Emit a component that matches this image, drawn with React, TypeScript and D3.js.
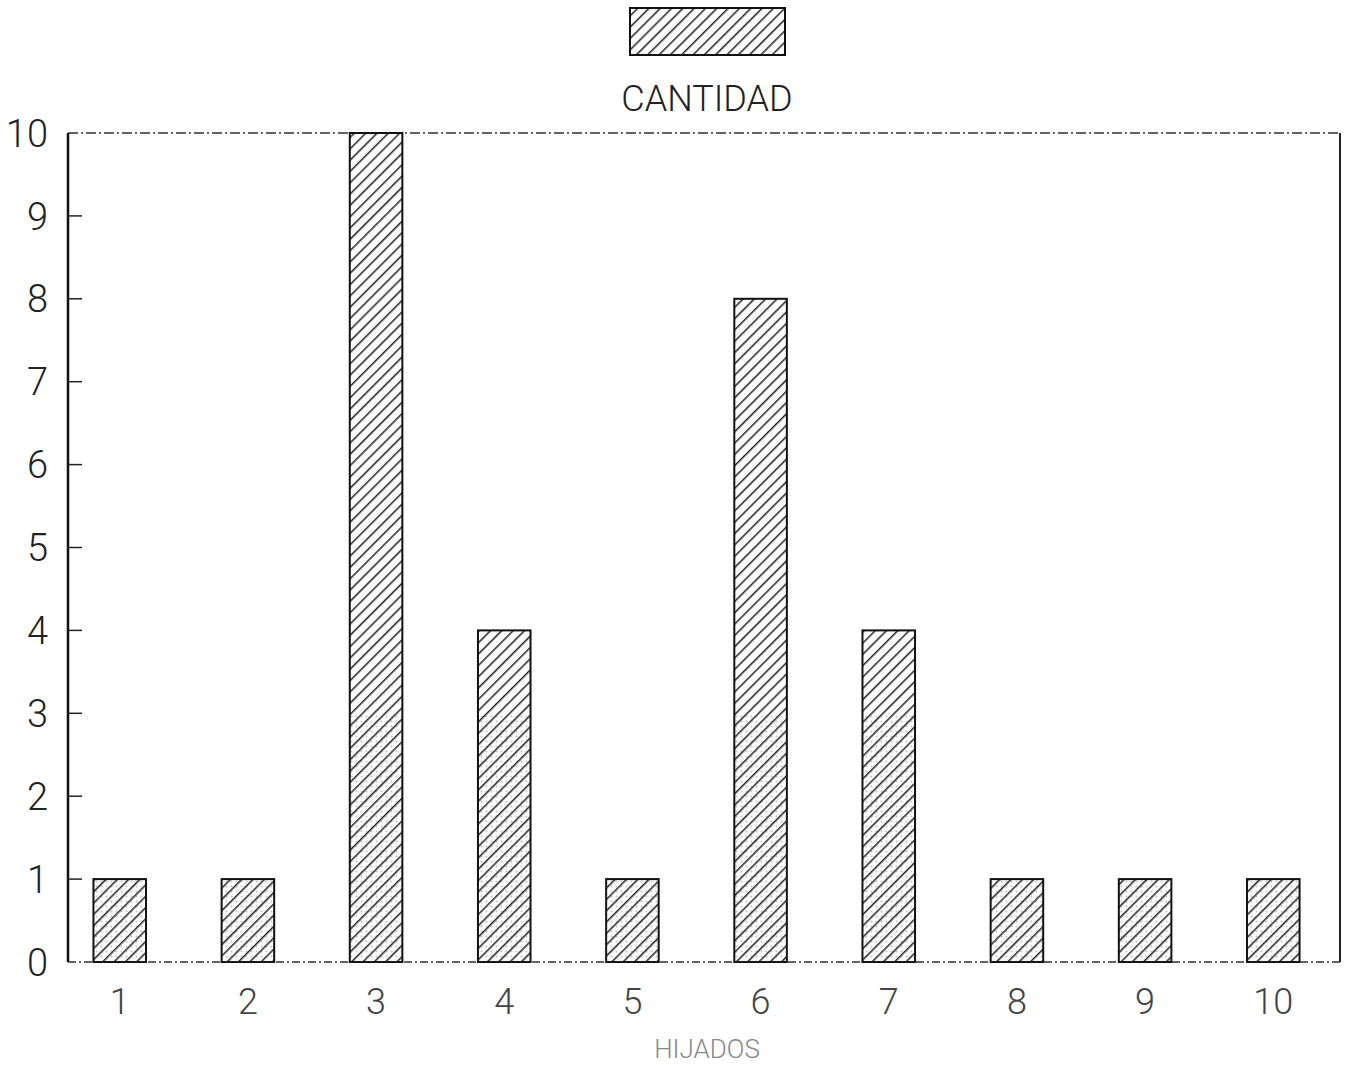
import * as d3 from 'd3';

const categories = ['1', '2', '3', '4', '5', '6', '7', '8', '9', '10'];
const cantidad = [1, 1, 10, 4, 1, 8, 4, 1, 1, 1];
const yTicks = [0, 1, 2, 3, 4, 5, 6, 7, 8, 9, 10];
const seriesName = 'CANTIDAD';
const xTitle = 'HIJADOS';

const W = 1359;
const H = 1065;
const plot = { left: 68, right: 1340, top: 133, bottom: 962 };
const font = "Roboto, 'Liberation Sans', sans-serif";

export default function App() {
    const x = d3.scaleBand().domain(categories).range([55, 1338]).paddingInner(0.59).paddingOuter(0.3);
    const y = d3.scaleLinear().domain([0, 10]).range([plot.bottom, plot.top]);

    return (
        <svg width={W} height={H} style={{ position: 'absolute', left: 0, top: 0, background: '#fff' }}>
            <defs>
                <pattern id="hatch" width={8} height={8} patternUnits="userSpaceOnUse" patternTransform="rotate(45)">
                    <rect width={8} height={8} fill="#fff" />
                    <line x1={0} y1={0} x2={0} y2={8} stroke="#222" strokeWidth={3} />
                </pattern>
                <pattern id="dots" width={5} height={5} patternUnits="userSpaceOnUse">
                    <circle cx={1.5} cy={1.5} r={1} fill="#555" />
                </pattern>
            </defs>

            {/* legend */}
            <rect x={630} y={8} width={155} height={47} fill="url(#hatch)" stroke="#111" strokeWidth={2} />
            <text x={707} y={111} textAnchor="middle" fontFamily={font} fontWeight={300} fontSize={36} fill="#222">
                {seriesName}
            </text>

            {/* frame */}
            <line x1={plot.left} x2={plot.right} y1={plot.top} y2={plot.top} stroke="#333" strokeWidth={1.5} strokeDasharray="10 3 2 3" />
            <line x1={plot.left} x2={plot.right} y1={plot.bottom} y2={plot.bottom} stroke="#333" strokeWidth={1.5} strokeDasharray="8 3 2 3" />
            <line x1={plot.right} x2={plot.right} y1={plot.top} y2={plot.bottom} stroke="#222" strokeWidth={2} />
            <line x1={plot.left} x2={plot.left} y1={plot.top} y2={plot.bottom} stroke="#111" strokeWidth={2.5} />

            {/* bars */}
            {cantidad.map((v, i) => (
                <g key={categories[i]}>
                    <rect
                        x={x(categories[i])!}
                        y={y(v)}
                        width={x.bandwidth()}
                        height={y(0) - y(v)}
                        fill="url(#hatch)"
                        stroke="#111"
                        strokeWidth={2}
                    />
                    <rect
                        x={x(categories[i])!}
                        y={y(Math.min(v, 3))}
                        width={x.bandwidth()}
                        height={y(0) - y(Math.min(v, 3))}
                        fill="url(#dots)"
                        opacity={0.35}
                    />
                </g>
            ))}

            {/* y axis ticks */}
            {yTicks.map(t => (
                <g key={t}>
                    {t > 0 && t < 10 && (
                        <line x1={plot.left} x2={plot.left + 14} y1={y(t)} y2={y(t)} stroke="#222" strokeWidth={1.5} />
                    )}
                    <text
                        x={plot.left - 20}
                        y={y(t)}
                        dy="0.36em"
                        textAnchor="end"
                        fontFamily={font}
                        fontWeight={300}
                        fontSize={38}
                        fill="#222"
                    >
                        {t}
                    </text>
                </g>
            ))}

            {/* x axis labels */}
            {categories.map(c => (
                <text
                    key={c}
                    x={x(c)! + x.bandwidth() / 2}
                    y={1014}
                    textAnchor="middle"
                    fontFamily={font}
                    fontWeight={300}
                    fontSize={36}
                    fill="#444"
                >
                    {c}
                </text>
            ))}

            <text x={707} y={1058} textAnchor="middle" fontFamily={font} fontWeight={300} fontSize={26} fill="#888">
                {xTitle}
            </text>
        </svg>
    );
}
